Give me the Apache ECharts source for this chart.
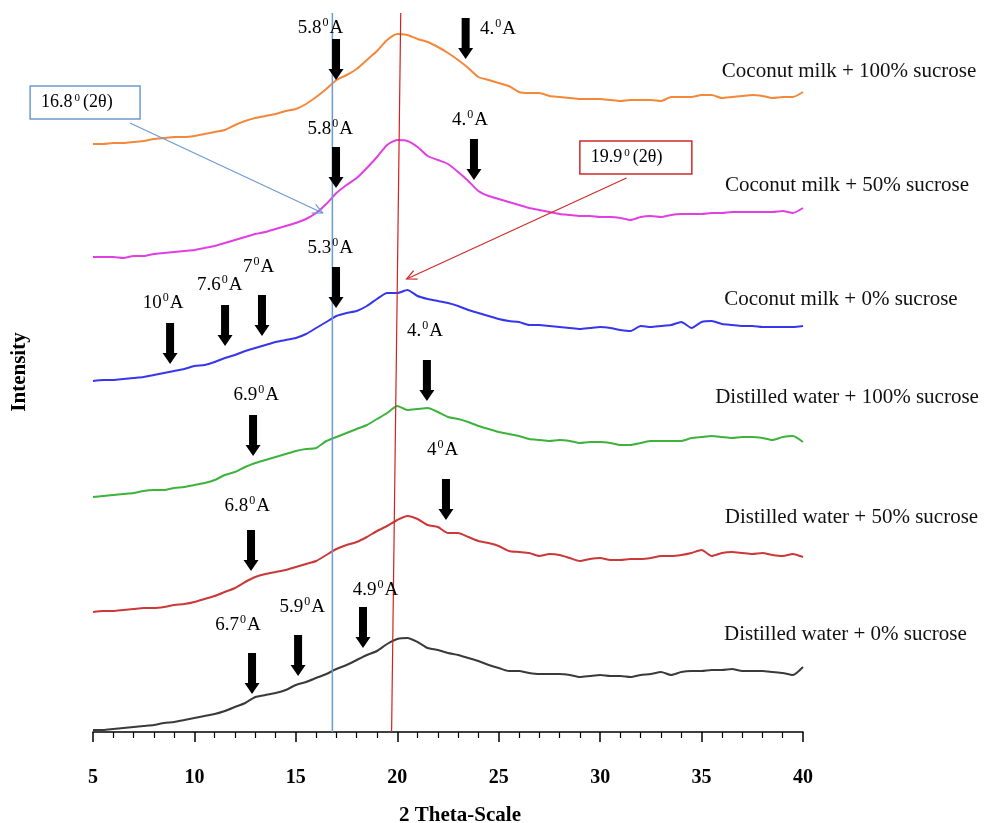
<!DOCTYPE html>
<html>
<head>
<meta charset="utf-8">
<script src="https://cdn.jsdelivr.net/npm/echarts@6/dist/echarts.min.js"></script>
<style>
html,body{margin:0;padding:0;background:#fff;}
#chart{width:987px;height:823px;}
</style>
</head>
<body>
<div id="chart"></div>
<script>
// 2-theta positions (degrees)
var theta = [5,5.5,6,6.5,7,7.5,8,8.5,9,9.5,10,10.5,11,11.5,12,12.5,13,13.5,14,14.5,15,15.5,16,16.5,17,17.5,18,18.5,19,19.5,20,20.5,21,21.5,22,22.5,23,23.5,24,24.5,25,25.5,26,26.5,27,27.5,28,28.5,29,29.5,30,30.5,31,31.5,32,32.5,33,33.5,34,34.5,35,35.5,36,36.5,37,37.5,38,38.5,39,39.5,40];

// intensities (offset as stacked in the figure, arbitrary units)
var cm100 = [588,588,589,589,590,591,593,594,595,595, 596,598,600,602,607,611,614,616,618,621, 623,628,635,643,652,657,663,672,681,692, 698,697,693,690,685,679,672,664,655,652, 649,646,640,639,639,636,635,634,633,633, 633,632,631,632,632,632,631,635,635,635, 637,637,634,635,636,637,636,634,635,635, 640];
var cm50 = [475,475,475,474,476,476,478,479,480,481, 482,484,486,489,492,495,498,500,503,506, 509,513,519,528,539,547,554,564,575,587, 592,591,585,576,572,568,560,551,541,536, 533,530,527,524,522,520,518,517,516,516, 515,515,514,512,515,516,515,517,518,518, 518,519,519,520,520,520,520,520,521,519, 524];
var cm0 = [351,352,352,353,354,355,357,359,361,363, 366,367,370,374,377,381,384,387,390,392, 394,398,404,410,416,419,421,426,433,439, 439,442,436,433,431,429,426,422,419,416, 413,411,410,407,407,406,405,404,403,404, 405,404,402,401,406,405,406,407,410,404, 410,411,408,407,406,406,405,405,405,405, 406];
var dw100 = [235,236,237,238,239,241,242,242,244,245, 247,249,252,257,260,265,269,272,275,278, 281,283,284,291,295,299,303,307,313,319, 326,322,323,324,320,315,313,310,306,303, 300,298,296,293,292,291,292,291,289,290, 290,289,287,287,289,291,291,291,291,294, 295,296,295,294,295,295,294,292,295,296, 290];
var dw50 = [120,121,121,122,123,124,124,125,127,128, 130,133,136,140,144,150,155,158,160,162, 165,168,171,177,183,187,190,195,201,206, 212,216,213,207,205,199,199,195,191,189, 186,181,180,179,176,178,177,174,171,173, 174,172,172,173,173,174,176,176,177,179, 182,176,179,180,179,178,179,177,176,178, 175];
var dw0 = [2,2,3,4,5,6,7,9,10,12, 14,16,18,21,25,29,35,37,39,42, 47,50,54,58,63,67,72,77,81,88, 93,94,90,84,82,79,77,74,71,67, 64,61,61,59,58,58,58,57,55,56, 57,56,56,55,57,58,60,57,60,61, 61,62,62,63,61,61,61,60,59,57, 65];

var seriesNames = ['Coconut milk + 100% sucrose','Coconut milk + 50% sucrose','Coconut milk + 0% sucrose','Distilled water + 100% sucrose','Distilled water + 50% sucrose','Distilled water + 0% sucrose'];
var seriesColors = ['#F4883A','#E23FE2','#3636EC','#3DB33D','#CC3838','#3A3A3A'];
// series label anchor (theta, intensity)
var nameX = [42.27,42.17,41.87,42.17,42.39,42.09];
var nameY = [661,547,433,335,215,98];

// peak arrows: x (2θ), tip intensity, label text, label x, label y
var arrowX = [16.98,23.37,16.98,23.78,16.98,13.33,11.51,8.80,21.46,12.89,22.40,12.79,18.31,15.11,12.84];
var arrowTip = [652,673,544,552,424,396,386,368,331,276,212,161,84,56,38];
var arrowLabels = ['5.8','4.','5.8','4.','5.3','7','7.6','10','4.','6.9','4','6.8','4.9','5.9','6.7'];
var labelX = [16.21,24.96,16.69,23.58,16.69,13.17,11.25,8.45,21.37,13.05,22.23,12.60,18.93,15.31,12.15];
var labelY = [704,703,603,612,484,465,447,429,401,337,282,226,142,125,107];

// reference lines at 16.8 and 19.9 (2θ)
var blueGuide = [[16.8,0],[16.8,719]];
var redGuide = [[19.72,0],[20.17,719]];

// callout boxes: x1, y1, x2, y2, text
var boxes = [[1.9,646,7.32,613,'16.8'],[29.0,591,34.52,558,'19.9']];
var boxColors = ['#6D9BD0','#D02A2A'];
// callout pointers: from (x,y) to (x,y)
var pointers = [[6.82,609,16.32,519],[31.30,554,20.46,453]];

var chart = echarts.init(document.getElementById('chart'), null, {renderer:'canvas'});
var serif = 'Liberation Serif';

var lineSeries = [cm100,cm50,cm0,dw100,dw50,dw0].map(function(vals, i){
  return {
    type:'line', name: seriesNames[i],
    data: theta.map(function(t, j){ return [t, vals[j]]; }),
    showSymbol:false, smooth:0.2,
    lineStyle:{color:seriesColors[i], width:2},
    silent:true, z:3
  };
});

var supRich = {
  n:{fontFamily:serif,fontSize:19,color:'#222',lineHeight:22},
  s:{fontFamily:serif,fontSize:12,color:'#222',lineHeight:12,verticalAlign:'top',padding:[0,1,0,1]}
};

var option = {
  animation:false,
  grid:{left:93,right:184,top:12,bottom:91,containLabel:false,outerBoundsMode:'none'},
  xAxis:{
    type:'value', min:5, max:40, interval:5,
    name:'2 Theta-Scale', nameLocation:'middle', nameGap:73,
    nameTextStyle:{fontFamily:serif,fontWeight:'bold',fontSize:21,color:'#000',padding:[0,0,0,24]},
    axisLine:{show:true,onZero:false,lineStyle:{color:'#000',width:1.5}},
    axisTick:{show:true,inside:false,length:10,lineStyle:{color:'#000',width:1.5}},
    minorTick:{show:true,splitNumber:5,length:6,lineStyle:{color:'#000',width:1.2}},
    axisLabel:{fontFamily:serif,fontWeight:'bold',fontSize:20,color:'#000',margin:36},
    splitLine:{show:false}
  },
  yAxis:{
    type:'value', min:0, max:720,
    name:'Intensity', nameLocation:'middle', nameGap:63, nameRotate:90,
    nameTextStyle:{fontFamily:serif,fontWeight:'bold',fontSize:21,color:'#000'},
    axisLine:{show:false}, axisTick:{show:false}, axisLabel:{show:false}, splitLine:{show:false}
  },
  series: lineSeries.concat([
    {type:'line', data:blueGuide, showSymbol:false, silent:true, z:4,
     lineStyle:{color:'#6D9BD0', width:1.5}},
    {type:'line', data:redGuide, showSymbol:false, silent:true, z:4,
     lineStyle:{color:'#D42020', width:1.2}},
    // black peak arrows
    {type:'custom', clip:false, silent:true, z:6,
     data: arrowX.map(function(x,i){ return [x, arrowTip[i]]; }),
     renderItem:function(params, api){
       var p = api.coord([api.value(0), api.value(1)]);
       var x = p[0], y = p[1];
       return {type:'polygon', shape:{points:[[x,y],[x-7.5,y-11],[x-4,y-11],[x-4,y-41],[x+4,y-41],[x+4,y-11],[x+7.5,y-11]]},
               style:{fill:'#000'}};
     }},
    // arrow labels
    {type:'custom', clip:false, silent:true, z:6,
     data: labelX.map(function(x,i){ return [x, labelY[i], i]; }),
     renderItem:function(params, api){
       var p = api.coord([api.value(0), api.value(1)]);
       var t = arrowLabels[api.value(2)];
       return {type:'text', x:p[0], y:p[1],
               style:{text:'{n|'+t+'}{s|0}{n|A}', rich:supRich, align:'center', verticalAlign:'middle'}};
     }},
    // series names
    {type:'custom', clip:false, silent:true, z:6,
     data: nameX.map(function(x,i){ return [x, nameY[i], i]; }),
     renderItem:function(params, api){
       var p = api.coord([api.value(0), api.value(1)]);
       return {type:'text', x:p[0], y:p[1],
               style:{text:seriesNames[api.value(2)], fontFamily:serif, fontSize:21, fill:'#111', align:'center', verticalAlign:'middle'}};
     }},
    // callout boxes
    {type:'custom', clip:false, silent:true, z:7,
     data: boxes.map(function(b,i){ return [b[0],b[1],b[2],b[3],i]; }),
     renderItem:function(params, api){
       var a = api.coord([api.value(0), api.value(1)]);
       var b = api.coord([api.value(2), api.value(3)]);
       var i = api.value(4);
       return {type:'group', children:[
         {type:'rect', shape:{x:a[0], y:a[1], width:b[0]-a[0], height:b[1]-a[1]},
          style:{fill:'#fff', stroke:boxColors[i], lineWidth:1.5}},
         {type:'text', x:a[0]+11, y:(a[1]+b[1])/2,
          style:{text:'{n|'+boxes[i][4]+'}{s|0}{n|(2θ)}', align:'left', verticalAlign:'middle',
                 rich:{n:{fontFamily:serif,fontSize:18,color:'#222',lineHeight:20},
                       s:{fontFamily:serif,fontSize:11,color:'#222',lineHeight:11,verticalAlign:'top',padding:[0,3,0,2]}}}}
       ]};
     }},
    // callout pointers (open arrowheads)
    {type:'custom', clip:false, silent:true, z:7,
     data: pointers.map(function(p,i){ return [p[0],p[1],p[2],p[3],i]; }),
     renderItem:function(params, api){
       var a = api.coord([api.value(0), api.value(1)]);
       var b = api.coord([api.value(2), api.value(3)]);
       var col = boxColors[api.value(4)];
       var ang = Math.atan2(b[1]-a[1], b[0]-a[0]);
       var L = 11, w = 0.45;
       var w1 = [b[0]-L*Math.cos(ang-w), b[1]-L*Math.sin(ang-w)];
       var w2 = [b[0]-L*Math.cos(ang+w), b[1]-L*Math.sin(ang+w)];
       return {type:'group', children:[
         {type:'line', shape:{x1:a[0],y1:a[1],x2:b[0],y2:b[1]}, style:{stroke:col,lineWidth:1.2}},
         {type:'polyline', shape:{points:[w1,b,w2]}, style:{stroke:col,lineWidth:1.2,fill:null}}
       ]};
     }}
  ])
};
chart.setOption(option);
</script>
</body>
</html>
